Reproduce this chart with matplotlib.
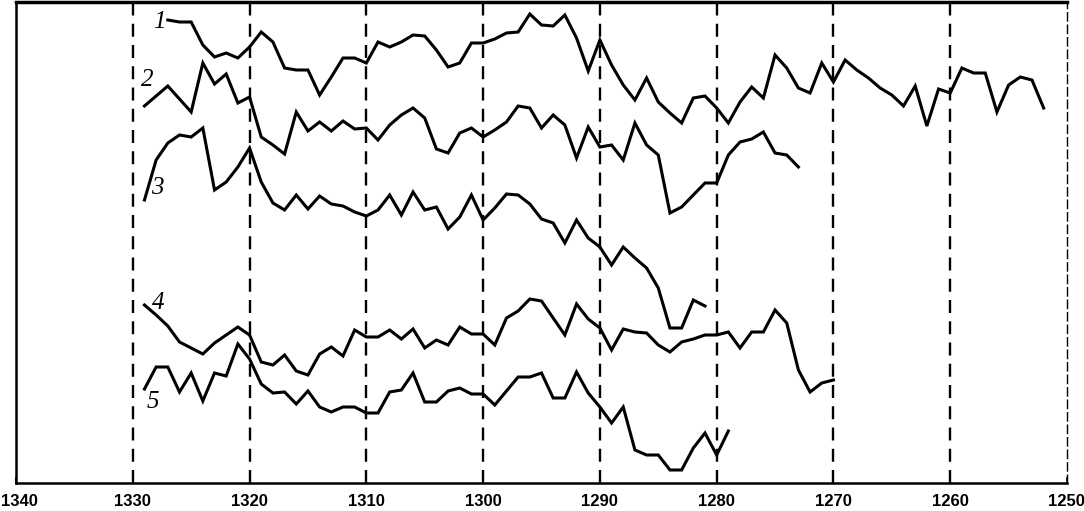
import numpy as np
import matplotlib.pyplot as plt
import matplotlib.transforms as mtransforms

# years for each series (annual steps, axis runs backwards)
years_1 = np.arange(1327, 1251, -1)
years_2 = np.arange(1329, 1272, -1)
years_3 = np.arange(1329, 1280, -1)
years_4 = np.arange(1329, 1269, -1)
years_5 = np.arange(1329, 1278, -1)

# series values (arbitrary vertical units, curves stacked)
series_1 = [463, 461, 461, 438, 426, 430, 425, 436, 451, 441, 415, 413, 413, 388, 406, 425,
            425, 420, 441, 436, 441, 448, 447, 433, 416, 420, 440, 440, 444, 450, 451, 469,
            458, 457, 468, 445, 412, 443, 418, 398, 383, 405, 381, 370, 360, 385, 387, 375,
            360, 381, 396, 385, 428, 415, 395, 390, 420, 401, 423, 413, 405, 395, 388, 377,
            397, 357, 394, 390, 415, 410, 410, 371, 398, 406, 403, 375]
series_2 = [377, 387, 397, 384, 371, 420, 399, 409, 380, 386, 346, 338, 329, 371, 352, 361,
            352, 362, 354, 355, 343, 358, 368, 375, 365, 334, 330, 350, 355, 346, 353, 361,
            377, 375, 355, 368, 358, 325, 356, 336, 338, 323, 360, 338, 328, 270, 276, 288,
            300, 300, 328, 341, 344, 351, 330, 328, 316]
series_3 = [283, 323, 340, 348, 346, 355, 293, 301, 316, 335, 301, 280, 273, 288, 274, 287,
            279, 277, 271, 267, 273, 288, 268, 291, 273, 276, 254, 266, 288, 263, 275, 289,
            288, 279, 264, 260, 240, 263, 245, 236, 218, 236, 225, 215, 195, 155, 155, 183, 177]
series_4 = [178, 168, 157, 141, 135, 129, 140, 148, 156, 148, 121, 118, 128, 112, 108, 129,
            136, 127, 153, 146, 146, 153, 144, 154, 135, 143, 138, 156, 149, 149, 138, 165,
            172, 184, 182, 165, 148, 179, 164, 155, 133, 154, 151, 150, 138, 131, 141, 144,
            148, 148, 151, 135, 151, 151, 173, 160, 113, 91, 100, 103]
series_5 = [94, 116, 116, 91, 110, 82, 110, 107, 139, 124, 99, 90, 91, 79, 92, 76, 71, 76,
            76, 70, 70, 91, 93, 110, 81, 81, 92, 95, 89, 89, 78, 92, 106, 106, 110, 85, 85,
            111, 90, 76, 60, 76, 33, 28, 28, 13, 13, 35, 50, 28, 52]

curve_labels = ['1', '2', '3', '4', '5']
label_x = [1327.7, 1328.8, 1327.9, 1327.8, 1328.3]
label_y = [461, 403, 295, 180, 81]

tick_years = np.arange(1340, 1249, -10)
dashed_years = np.arange(1330, 1259, -10)

fig = plt.figure(figsize=(10.84, 5.11), dpi=100)
ax = fig.add_axes([16 / 1084, 28 / 511, 1051 / 1084, 481 / 511])

for yr in dashed_years:
    ax.axvline(yr, color='black', linewidth=1.7, linestyle=(0, (5.5, 3.5)), zorder=1)

for yrs, vals in [(years_1, series_1), (years_2, series_2), (years_3, series_3),
                  (years_4, series_4), (years_5, series_5)]:
    ax.plot(yrs, vals, color='black', linewidth=2.2, solid_joinstyle='miter', zorder=2)

for lab, lx, ly in zip(curve_labels, label_x, label_y):
    ax.text(lx, ly, lab, fontsize=18, fontstyle='italic', family='Liberation Serif',
            ha='center', va='center', zorder=3)

ax.set_xlim(1340, 1250)
ax.set_ylim(0, 481)
ax.set_xticks(tick_years)
ax.set_xticklabels([str(t) for t in tick_years], fontsize=12, fontweight='bold',
                   family='Liberation Sans')
ax.set_yticks([])
ax.tick_params(axis='x', length=4, width=1.2, direction='in', pad=8)

# nudge the first and last labels so they stay inside the canvas
first = ax.get_xticklabels()[0]
first.set_transform(first.get_transform() + mtransforms.ScaledTranslation(3 / 100, 0, fig.dpi_scale_trans))
last = ax.get_xticklabels()[-1]
last.set_transform(last.get_transform() + mtransforms.ScaledTranslation(-1 / 100, 0, fig.dpi_scale_trans))

ax.spines['left'].set_linewidth(1.8)
ax.spines['bottom'].set_linewidth(1.8)
ax.spines['top'].set_linewidth(2.5)
ax.spines['right'].set_linewidth(1.0)
ax.spines['right'].set_linestyle((0, (6, 3)))

plt.savefig('out.png', dpi=100)
plt.close()
